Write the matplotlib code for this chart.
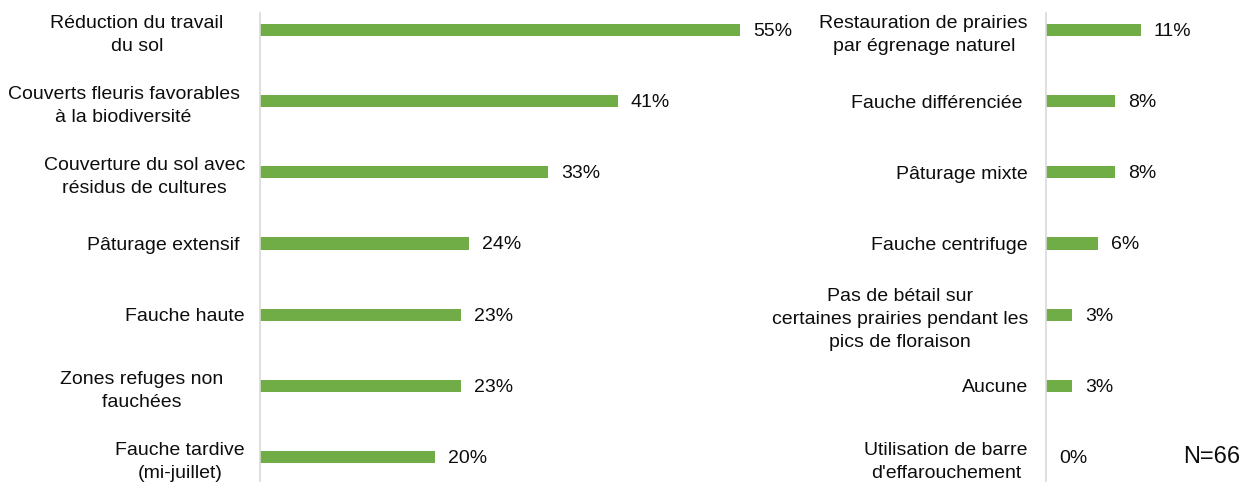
import matplotlib.pyplot as plt

plt.rcParams['font.family'] = ['Liberation Sans', 'DejaVu Sans']

left_labels = ["Réduction du travail    \ndu sol    ",
               "Couverts fleuris favorables \nà la biodiversité ",
               "Couverture du sol avec\nrésidus de cultures",
               "Pâturage extensif ",
               "Fauche haute",
               "Zones refuges non    \nfauchées    ",
               "Fauche tardive\n(mi-juillet)"]
left_values = [55, 41, 33, 24, 23, 23, 20]

right_labels = ["Restauration de prairies\npar égrenage naturel",
                "Fauche différenciée ",
                "Pâturage mixte",
                "Fauche centrifuge",
                "Pas de bétail sur\ncertaines prairies pendant les\npics de floraison",
                "Aucune",
                "Utilisation de barre\nd'effarouchement"]
right_values = [11, 8, 8, 6, 3, 3, 0]

W, H = 1245, 482
fig = plt.figure(figsize=(W / 100, H / 100), dpi=100)

GREEN = '#70AD47'
AXIS_GREY = '#D9D9D9'
TXT = '#0d0d0d'
FS = 14
row_px = 71.17
first_px = 30
top_px, bot_px = 13, 482


def panel(x0_px, w_px, px_per_pct, labels, values, label_gap):
    ax = fig.add_axes([x0_px / W, 1 - bot_px / H, w_px / W, (bot_px - top_px) / H])
    ax.set_xlim(0, w_px / px_per_pct)
    ax.set_ylim((bot_px - first_px) / row_px, (top_px - first_px) / row_px)
    ypos = list(range(len(values)))
    ax.barh(ypos, values, height=0.17, color=GREEN)
    for y, v in zip(ypos, values):
        ax.text(v + 13 / px_per_pct, y + 0.02, f"{v}%", va='center', ha='left', fontsize=FS, color=TXT)
    ax.set_yticks(ypos)
    ax.set_yticklabels(labels, fontsize=FS, multialignment='center', linespacing=1.45, color=TXT)
    ax.tick_params(axis='y', length=0, pad=label_gap)
    ax.set_xticks([])
    for s in ['top', 'right', 'bottom']:
        ax.spines[s].set_visible(False)
    ax.spines['left'].set_color(AXIS_GREY)
    ax.spines['left'].set_linewidth(1.2)
    return ax


panel(260, 520, 8.727, left_labels, left_values, 10.8)
panel(1046, 120, 8.6, right_labels, right_values, 13)
fig.text(1240 / W, 1 - 457 / H, "N=66", ha='right', va='center', fontsize=17, color=TXT)

fig.savefig('out.png', dpi=100)
